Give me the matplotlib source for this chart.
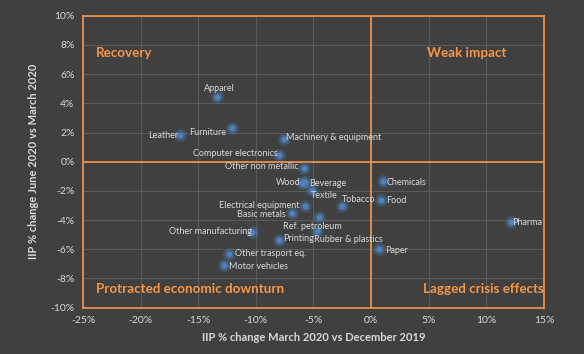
import matplotlib.pyplot as plt
from matplotlib.ticker import FuncFormatter

# IIP % changes by industry
sectors = ['Apparel', 'Furniture', 'Leather', 'Machinery & equipment', 'Computer electronics',
           'Other non metallic', 'Wood', 'Beverage', 'Textile', 'Electrical equipment',
           'Basic metals', 'Ref. petroleum', 'Rubber & plastics', 'Other manufacturing',
           'Printing', 'Other trasport eq.', 'Motor vehicles', 'Chemicals', 'Food',
           'Tobacco', 'Pharma', 'Paper']
mar_vs_dec = [-13.4, -12.1, -16.6, -7.6, -8.0, -5.8, -6.0, -5.7, -5.1, -5.7,
              -6.9, -4.5, -4.7, -10.3, -8.0, -12.3, -12.8, 1.0, 0.9, -2.5, 12.1, 0.7]
jun_vs_mar = [4.45, 2.3, 1.8, 1.55, 0.45, -0.4, -1.45, -1.4, -1.95, -3.0,
              -3.5, -3.8, -4.75, -4.8, -5.35, -6.3, -7.05, -1.35, -2.65, -3.0, -4.15, -6.0]

# label offsets in points (dx, dy, ha)
offsets = {
    'Apparel': (2, 6, 'center'), 'Furniture': (-4, -3, 'right'), 'Leather': (-1, 0, 'right'),
    'Machinery & equipment': (2, 1, 'left'), 'Computer electronics': (-1, 1, 'right'),
    'Other non metallic': (-4, 1, 'right'), 'Wood': (-1, 0, 'right'), 'Beverage': (3, -1, 'left'),
    'Textile': (-1, -4, 'left'), 'Electrical equipment': (-4, 0, 'right'),
    'Basic metals': (-4, -1, 'right'), 'Ref. petroleum': (-5, -7, 'center'),
    'Rubber & plastics': (-2, -6, 'left'), 'Other manufacturing': (0, 0, 'right'),
    'Printing': (3, 1, 'left'), 'Other trasport eq.': (4, 0, 'left'),
    'Motor vehicles': (4, -1, 'left'), 'Chemicals': (3, -1, 'left'), 'Food': (3, 0, 'left'),
    'Tobacco': (0, 4, 'left'), 'Pharma': (1, 0, 'left'), 'Paper': (4, -1, 'left'),
}

bg = '#404040'
orange = '#F79646'
txt = '#D9D9D9'
plt.rcParams['font.family'] = ['Lato', 'DejaVu Sans']

fig = plt.figure(figsize=(5.84, 3.54), dpi=100, facecolor=bg)
ax = fig.add_axes([0.1421, 0.1308, 0.7894, 0.8248], facecolor=bg)

ax.set_xlim(-25, 15)
ax.set_ylim(-10, 10)
ax.set_xticks(range(-25, 16, 5))
ax.set_yticks(range(-10, 11, 2))
ax.grid(True, color='#5a5a5a', linewidth=0.8)
ax.set_axisbelow(True)
for s in ax.spines.values():
    s.set_color(orange)
    s.set_linewidth(1.2)
ax.axhline(0, color=orange, linewidth=1.2)
ax.axvline(0, color=orange, linewidth=1.2)
ax.tick_params(length=0, colors=txt, labelsize=7.5, pad=6)
ax.xaxis.set_major_formatter(FuncFormatter(lambda v, p: '%d%%' % v))
ax.yaxis.set_major_formatter(FuncFormatter(lambda v, p: '%d%%' % v))

# glow + points
ax.scatter(mar_vs_dec, jun_vs_mar, s=90, color='#4F81BD', alpha=0.25, linewidths=0, zorder=3)
ax.scatter(mar_vs_dec, jun_vs_mar, s=45, color='#4F81BD', alpha=0.35, linewidths=0, zorder=3)
ax.scatter(mar_vs_dec, jun_vs_mar, s=16, color='#4F81BD', linewidths=0, zorder=4)

for name, x, y in zip(sectors, mar_vs_dec, jun_vs_mar):
    dx, dy, ha = offsets[name]
    ax.annotate(name, (x, y), xytext=(dx, dy), textcoords='offset points',
                ha=ha, va='center', fontsize=6.5, color=txt, zorder=5)

qkw = dict(color=orange, fontsize=9.6, fontweight='bold', va='center')
ax.text(-23.9, 7.45, 'Recovery', ha='left', **qkw)
ax.text(8.3, 7.45, 'Weak impact', ha='center', **qkw)
ax.text(-23.9, -8.75, 'Protracted economic downturn', ha='left', **qkw)
ax.text(15.0, -8.75, 'Lagged crisis effects', ha='right', **qkw)

ax.set_xlabel('IIP % change March 2020 vs December 2019', color=txt, fontsize=8,
              fontweight='bold', labelpad=5)
ax.set_ylabel('IIP % change June 2020 vs March 2020', color=txt, fontsize=8,
              fontweight='bold', labelpad=8)

fig.savefig('out.png', dpi=100, facecolor=bg)
